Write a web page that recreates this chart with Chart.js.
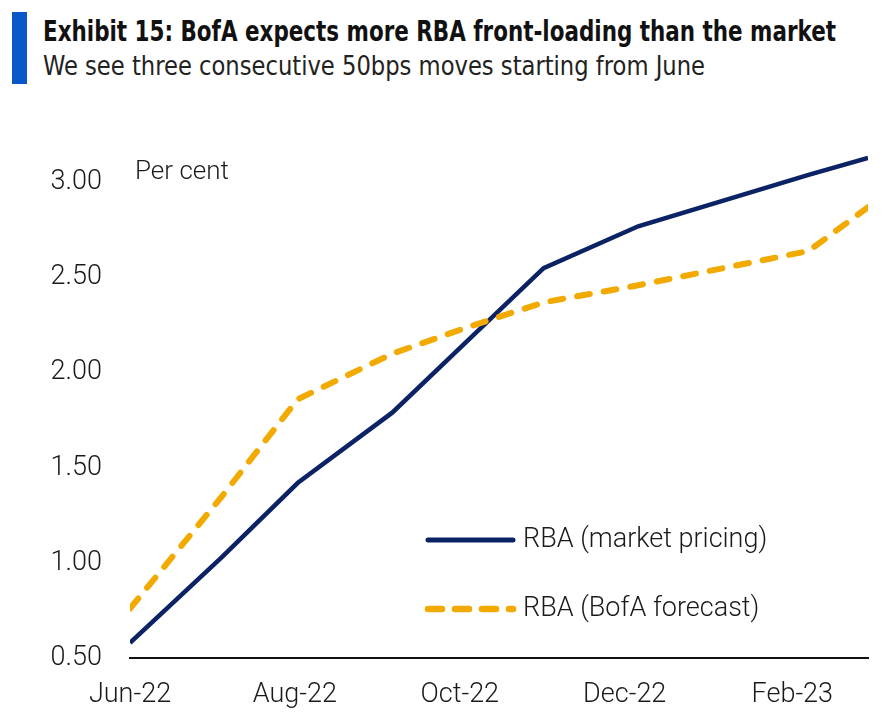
<!DOCTYPE html>
<html>
<head>
<meta charset="utf-8">
<script src="https://cdn.jsdelivr.net/npm/chart.js@4.4.1/dist/chart.umd.min.js"></script>
<style>
  body { margin: 0; background: #fff; }
  #wrap { position: relative; width: 891px; height: 721px; overflow: hidden; }
  #bar { position: absolute; left: 12px; top: 12px; width: 15px; height: 72px; background: #0a57c9; }
  .head { position: absolute; left: 43px; white-space: nowrap; font-family: "Liberation Sans Narrow", "DejaVu Sans Condensed", "Liberation Sans", sans-serif; }
  #title { top: 18px; font-size: 28px; line-height: 28px; font-weight: bold; color: #111; }
  #sub { top: 53px; font-size: 26px; line-height: 26px; color: #222; }
  #chartBox { position: absolute; left: 0; top: 0; width: 891px; height: 721px; }
</style>
</head>
<body>
<div id="wrap">
  <div id="bar"></div>
  <div id="title" class="head">Exhibit 15: BofA expects more RBA front-loading than the market</div>
  <div id="sub" class="head">We see three consecutive 50bps moves starting from June</div>
  <div id="chartBox"><canvas id="rbaChart" width="891" height="721"></canvas></div>
</div>
<script>
// days counted from 1 Jun 2022 (RBA meeting dates)
var days = [0, 34, 62, 97, 125, 153, 188, 251, 273];
var marketPricing = [0.58, 1.03, 1.42, 1.79, 2.17, 2.55, 2.77, 3.04, 3.13];
var bofaForecast = [0.76, 1.35, 1.86, 2.10, 2.24, 2.37, 2.46, 2.64, 2.87];

var tickDays = [0, 61, 122, 183, 245];
var tickLabels = ['Jun-22', 'Aug-22', 'Oct-22', 'Dec-22', 'Feb-23'];
var yTicks = [0.5, 1.0, 1.5, 2.0, 2.5, 3.0];
var unitLabel = 'Per cent';

// squeeze the heading text to the width it has in the picture
function fitWidth(id, target) {
  var el = document.getElementById(id);
  var w = el.getBoundingClientRect().width;
  el.style.transform = 'scaleX(' + (target / w) + ')';
  el.style.transformOrigin = 'left top';
}
fitWidth('title', 793);
fitWidth('sub', 662);

function toPoints(xs, ys) {
  return xs.map(function(x, i) { return { x: x, y: ys[i] }; });
}

var tickFont = { family: 'Roboto', size: 27, weight: '300' };

var overlay = {
  id: 'overlay',
  afterDraw: function(chart) {
    var ctx = chart.ctx;
    var area = chart.chartArea;
    var sx = chart.scales.x, sy = chart.scales.y;
    ctx.save();
    ctx.font = '300 26px Roboto';
    ctx.fillStyle = '#1a1a1a';
    ctx.textBaseline = 'middle';
    ctx.fillText(unitLabel, sx.getPixelForValue(0) + 5, sy.getPixelForValue(3) - 10);

    // legend inside the plot
    chart.data.datasets.forEach(function(ds, i) {
      var y = area.top + 405 + i * 69;
      var x0 = area.left + 295;
      ctx.beginPath();
      ctx.strokeStyle = ds.borderColor;
      ctx.lineWidth = ds.borderWidth + 0.5;
      ctx.lineCap = 'round';
      ctx.setLineDash(ds.borderDash ? [14, 13] : []);
      ctx.moveTo(x0 + 3, y);
      ctx.lineTo(x0 + 88, y);
      ctx.stroke();
      ctx.setLineDash([]);
      ctx.fillStyle = '#1a1a1a';
      ctx.font = '300 27px Roboto';
      ctx.fillText(ds.label, x0 + 98, y);
    });
    ctx.restore();
  }
};

var ctx = document.getElementById('rbaChart').getContext('2d');
var rbaChart = new Chart(ctx, {
  type: 'line',
  data: {
    datasets: [
      {
        label: 'RBA (market pricing)',
        data: toPoints(days, marketPricing),
        borderColor: '#0b2265',
        borderWidth: 4.5,
        pointRadius: 0,
        tension: 0,
        order: 1
      },
      {
        label: 'RBA (BofA forecast)',
        data: toPoints(days, bofaForecast),
        borderColor: '#f2aa00',
        borderWidth: 6,
        borderDash: [13, 14],
        borderCapStyle: 'round',
        pointRadius: 0,
        tension: 0,
        order: 0
      }
    ]
  },
  options: {
    responsive: false,
    animation: false,
    devicePixelRatio: 1,
    layout: { padding: { top: 135, right: 23, bottom: 0, left: 0 } },
    plugins: {
      legend: { display: false },
      tooltip: { enabled: false }
    },
    scales: {
      x: {
        type: 'linear',
        min: 0,
        max: 273,
        afterBuildTicks: function(s) { s.ticks = tickDays.map(function(v) { return { value: v }; }); },
        afterFit: function(s) { s.height = 63; },
        ticks: {
          autoSkip: false,
          maxRotation: 0,
          padding: 21,
          color: '#1a1a1a',
          font: tickFont,
          callback: function(v, i) { return tickLabels[i]; }
        },
        grid: { display: false, drawTicks: false },
        border: { display: true, color: '#111', width: 2 }
      },
      y: {
        min: 0.5,
        max: 3.25,
        afterBuildTicks: function(s) { s.ticks = yTicks.map(function(v) { return { value: v }; }); },
        afterFit: function(s) { s.width = 130; },
        ticks: {
          padding: 28,
          color: '#1a1a1a',
          font: tickFont,
          callback: function(v) { return v.toFixed(2); }
        },
        grid: { display: false, drawTicks: false },
        border: { display: false }
      }
    }
  },
  plugins: [overlay]
});
</script>
</body>
</html>
